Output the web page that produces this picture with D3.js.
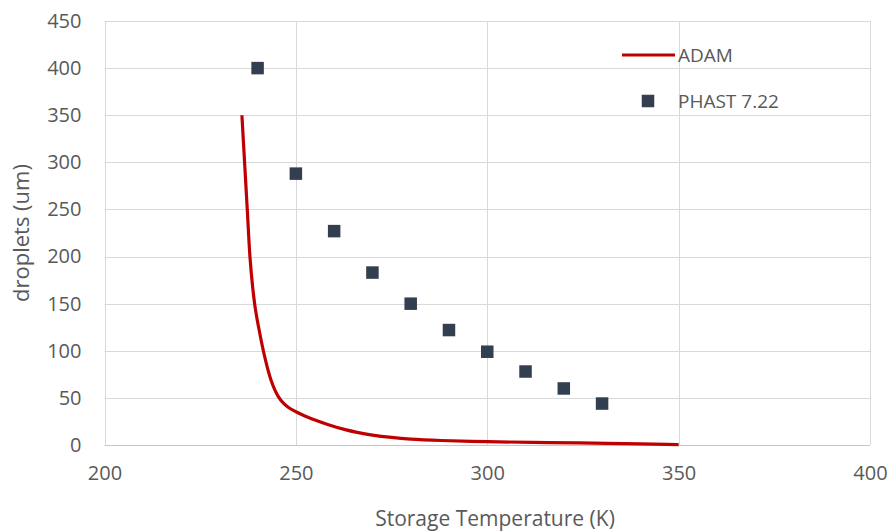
<!DOCTYPE html>
<html>
<head>
<meta charset="utf-8">
<script src="https://cdn.jsdelivr.net/npm/d3@7"></script>
<style>
  html, body { margin: 0; padding: 0; background: #fff; }
  svg { display: block; font-family: "Open Sans", "Liberation Sans", sans-serif; }
</style>
</head>
<body>
<svg id="chart" width="893" height="532"></svg>
<script>
// ADAM model curve: storage temperature (K) vs droplet size (um)
const adamTemp = [235.9, 236.6, 237.3, 238.0, 238.7, 239.4, 240.4, 241.5, 242.5, 243.5, 244.5, 245.5, 246.5, 247.5, 248.7, 250, 251.5, 253, 255, 258.5, 262.9, 266, 270, 275, 280, 288, 300, 312, 324, 340, 350];
const adamDroplet = [350, 300, 250, 200, 168, 145, 122, 100, 83, 69, 58.5, 50.8, 45.5, 41.7, 38.2, 35.3, 32.4, 29.8, 26.6, 21.6, 16.3, 13.4, 10.5, 8, 6.3, 4.8, 3.5, 2.8, 2.2, 1.2, 0.3];

// PHAST 7.22 results
const phastTemp = [240, 250, 260, 270, 280, 290, 300, 310, 320, 330];
const phastDroplet = [400, 288, 227, 183, 150, 122, 99, 78, 60, 44];

// Axis ticks
const xTicks = [200, 250, 300, 350, 400];
const yTicks = [0, 50, 100, 150, 200, 250, 300, 350, 400, 450];

const seriesNames = ["ADAM", "PHAST 7.22"];

const svg = d3.select("#chart");
const W = 893, H = 532;
const margin = { left: 104.5, right: W - 870, top: 21, bottom: H - 445 };

const x = d3.scaleLinear().domain([200, 400]).range([margin.left, W - margin.right]);
const y = d3.scaleLinear().domain([0, 450]).range([H - margin.bottom, margin.top]);

const gridColor = "#d9d9d9";
const textColor = "#595959";

// Horizontal gridlines
svg.append("g").selectAll("line").data(yTicks.filter(d => d > 0)).join("line")
  .attr("x1", x(200)).attr("x2", x(400))
  .attr("y1", d => Math.round(y(d)) + 0.5).attr("y2", d => Math.round(y(d)) + 0.5)
  .attr("stroke", gridColor).attr("stroke-width", 1);

// Vertical gridlines
svg.append("g").selectAll("line").data(xTicks).join("line")
  .attr("x1", d => Math.round(x(d)) + 0.5).attr("x2", d => Math.round(x(d)) + 0.5)
  .attr("y1", y(450)).attr("y2", y(0))
  .attr("stroke", gridColor).attr("stroke-width", 1);

// Bottom axis line
svg.append("line")
  .attr("x1", x(200)).attr("x2", x(400))
  .attr("y1", Math.round(y(0)) + 0.5).attr("y2", Math.round(y(0)) + 0.5)
  .attr("stroke", "#c8c8c8").attr("stroke-width", 1);

// Y tick labels
const yAxis = d3.axisLeft(y).tickValues(yTicks).tickSize(0).tickPadding(0);
const gy = svg.append("g").attr("transform", `translate(${x(200) - 23},0)`).call(yAxis);
gy.select(".domain").remove();
gy.selectAll("text").attr("fill", textColor).style("font-size", "20px")
  .style("font-family", "\"Open Sans\", sans-serif");

// X tick labels
const xAxis = d3.axisBottom(x).tickValues(xTicks).tickSize(0).tickPadding(0);
const gx = svg.append("g").attr("transform", `translate(0,${y(0) + 21})`).call(xAxis);
gx.select(".domain").remove();
gx.selectAll("text").attr("fill", textColor).style("font-size", "20px")
  .style("font-family", "\"Open Sans\", sans-serif");

// Axis titles
svg.append("text")
  .attr("x", 495).attr("y", 526)
  .attr("text-anchor", "middle")
  .attr("fill", textColor).style("font-size", "21px")
  .text("Storage Temperature (K)");

svg.append("text")
  .attr("transform", `translate(29,${233}) rotate(-90)`)
  .attr("text-anchor", "middle")
  .attr("fill", textColor).style("font-size", "22px")
  .text("droplets (um)");

// ADAM line
const adamData = adamTemp.map((t, i) => [t, adamDroplet[i]]);
const line = d3.line().x(d => x(d[0])).y(d => y(d[1])).curve(d3.curveCatmullRom.alpha(0.5));
svg.append("path")
  .datum(adamData)
  .attr("d", line)
  .attr("fill", "none")
  .attr("stroke", "#c00000")
  .attr("stroke-width", 3.2)
  .attr("stroke-linejoin", "round");

// PHAST markers
const markerSize = 12.5;
const markerColor = "#333f50";
svg.append("g").selectAll("rect").data(phastTemp.map((t, i) => [t, phastDroplet[i]])).join("rect")
  .attr("x", d => x(d[0]) - markerSize / 2)
  .attr("y", d => y(d[1]) - markerSize / 2)
  .attr("width", markerSize).attr("height", markerSize)
  .attr("fill", markerColor);

// Legend
const lg = svg.append("g");
lg.append("line")
  .attr("x1", 622).attr("x2", 675).attr("y1", 55).attr("y2", 55)
  .attr("stroke", "#c00000").attr("stroke-width", 3.2);
lg.append("text").attr("x", 678).attr("y", 55).attr("dy", "0.35em")
  .attr("fill", textColor).style("font-size", "19px").text(seriesNames[0]);
lg.append("rect")
  .attr("x", 648 - markerSize / 2).attr("y", 101 - markerSize / 2)
  .attr("width", markerSize).attr("height", markerSize).attr("fill", markerColor);
lg.append("text").attr("x", 678).attr("y", 101).attr("dy", "0.35em")
  .attr("fill", textColor).style("font-size", "19px").text(seriesNames[1]);
</script>
</body>
</html>
